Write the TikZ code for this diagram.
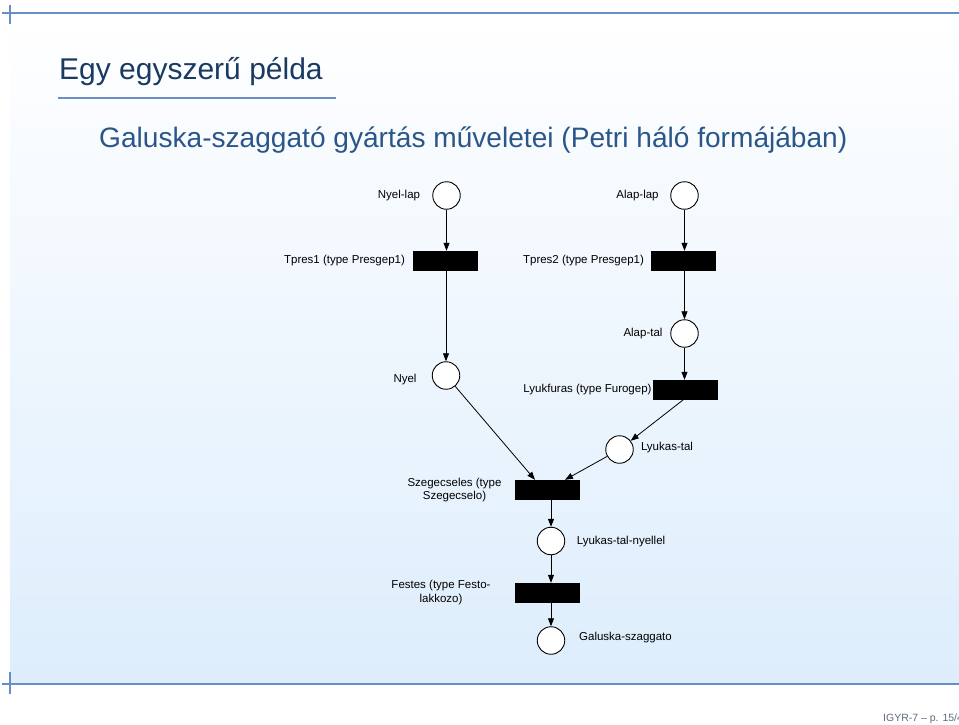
\documentclass[tikz,border=0pt]{standalone}
\usepackage{fontspec}
\setmainfont{Liberation Sans}
\usetikzlibrary{arrows.meta}
\definecolor{linebl}{RGB}{104,142,200}
\definecolor{titlebl}{RGB}{26,58,98}
\definecolor{subbl}{RGB}{42,86,138}
\definecolor{bgbl}{RGB}{221,237,252}
\definecolor{footgray}{RGB}{95,105,125}
\tikzset{
  place/.style={circle,draw=black,fill=white,line width=0.9pt,minimum size=27.5pt,inner sep=0pt},
  trans/.style={rectangle,fill=black,draw=black,minimum width=64pt,minimum height=19pt,inner sep=0pt},
  lbl/.style={inner sep=0pt,font=\fontsize{11.5}{13.5}\selectfont,align=center},
  arr/.style={-{Triangle[width=6pt,length=8pt]},line width=0.8pt},
}
\begin{document}
\begin{tikzpicture}[x=1pt,y=-1pt]
\useasboundingbox (0,0) rectangle (959,725);
% background
\shade[top color=white,bottom color=bgbl] (10,14) rectangle (959,684);
\draw[linebl,line width=2pt] (2,13) -- (959,13);
\draw[linebl,line width=2pt] (10,5) -- (10,24);
\draw[linebl,line width=2.4pt] (2,684) -- (959,684);
\draw[linebl,line width=2pt] (10,672) -- (10,694);
% titles
\node[anchor=base west,inner sep=0pt,text=titlebl,font=\fontsize{30}{34}\selectfont] (title) at (59,80) {Egy egyszerű példa};
\draw[linebl,line width=1.6pt] (58,98) -- (336,98);
\node[anchor=base west,inner sep=0pt,text=subbl,font=\fontsize{28.1}{32}\selectfont] (sub) at (99,147) {Galuska-szaggató gyártás műveletei (Petri háló formájában)};
% net
\node[place] (nl) at (446.5,195.5) {};
\node[place] (al) at (684.5,195.5) {};
\node[trans] (t1) at (445,260.5) {};
\node[trans] (t2) at (683.5,260.5) {};
\node[place] (at) at (684.5,333.5) {};
\node[place] (ny) at (446,375.5) {};
\node[trans] (lyk) at (685,389.5) {};
\node[place] (lt) at (619.5,449.5) {};
\node[trans] (szeg) at (547,489.5) {};
\node[place] (lyn) at (551,541) {};
\node[trans] (fest) at (547,592.5) {};
\node[place] (gs) at (551,640.5) {};
% labels
\node[lbl] (lnl) at (399,196) {Nyel-lap};
\node[lbl] (lal) at (637.5,196) {Alap-lap};
\node[lbl] (lt1) at (344.5,261) {Tpres1 (type Presgep1)};
\node[lbl] (lt2) at (583.5,261) {Tpres2 (type Presgep1)};
\node[lbl] (lat) at (643,334) {Alap-tal};
\node[lbl] (lny) at (405,379.5) {Nyel};
\node[lbl] (llyk) at (587.5,390) {Lyukfuras (type Furogep)};
\node[lbl] (llt) at (667,447.5) {Lyukas-tal};
\node[lbl] (lszeg) at (454.5,490) {Szegecseles (type\\Szegecselo)};
\node[lbl] (llyn) at (621,542) {Lyukas-tal-nyellel};
\node[lbl] (lfest) at (441,592.5) {Festes (type Festo-\\lakkozo)};
\node[lbl] (lgs) at (625.5,637.5) {Galuska-szaggato};
% arcs
\draw[arr] (nl) -- (nl |- t1.north);
\draw[arr] (al) -- (al |- t2.north);
\draw[arr] (t1.south -| ny) -- (ny);
\draw[arr] (t2.south -| at) -- (at);
\draw[arr] (at) -- (at |- lyk.north);
\draw[arr] ([xshift=-1pt]lyk.south) -- (lt);
\draw[arr] (ny) -- ([xshift=-12pt]szeg.north);
\draw[arr] (lt) -- ([xshift=18pt]szeg.north);
\draw[arr] (szeg.south -| lyn) -- (lyn);
\draw[arr] (lyn) -- (lyn |- fest.north);
\draw[arr] (fest.south -| gs) -- (gs);
% footer
\node[anchor=base west,inner sep=0pt,text=footgray,font=\fontsize{10.5}{12}\selectfont] (foot) at (883,721) {IGYR-7 – p. 15/4};
\end{tikzpicture}
\end{document}
